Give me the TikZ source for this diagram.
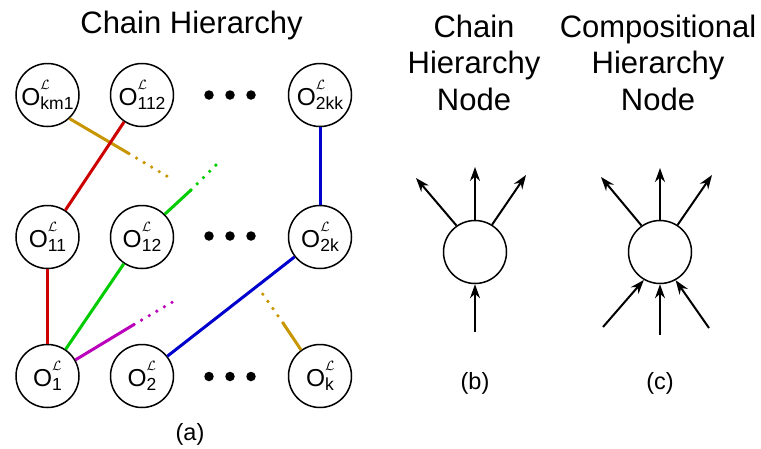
\RequirePackage{fix-cm}
\documentclass[tikz,border=0pt]{standalone}
\usepackage{fontspec}
\setmainfont{Liberation Sans}
\usetikzlibrary{arrows.meta}
\definecolor{cgold}{RGB}{200,150,0}
\definecolor{cred}{RGB}{204,0,0}
\definecolor{cgreen}{RGB}{0,204,0}
\definecolor{cblue}{RGB}{0,0,204}
\definecolor{cmag}{RGB}{187,0,187}
\newcommand\olab[1]{\fontsize{24.5}{24.5}\selectfont O\rlap{\raisebox{16pt}{\fontsize{13.5}{13.5}\selectfont$\mathcal{L}$}}\raisebox{-4pt}{\fontsize{17.5}{17.5}\selectfont #1}}
\begin{document}
\begin{tikzpicture}[x=1pt,y=-1pt,
  onode/.style={circle,draw,line width=1.5pt,minimum size=63pt,inner sep=0pt},
  conn/.style={line width=3pt},
  dotline/.style={line width=3.6pt,line cap=round,dash pattern=on 0pt off 8.8pt},
  arr/.style={line width=2pt,-{Stealth[length=14pt,width=10pt]}},
  dotc/.style={circle,fill,inner sep=0pt,minimum size=9.5pt},
  ttl/.style={anchor=base,font=\fontsize{31}{31}\selectfont},
  capt/.style={font=\fontsize{23.5}{23.5}\selectfont}]
\useasboundingbox (0,0) rectangle (761,448);
% titles
\node[ttl] (tA) at (191.5,33) {Chain Hierarchy};
\node[ttl] (tB1) at (474,37) {Chain};
\node[ttl] (tB2) at (474,73.5) {Hierarchy};
\node[ttl] (tB3) at (474,110) {Node};
\node[ttl] (tC1) at (658,37) {Compositional};
\node[ttl] (tC2) at (658,73.5) {Hierarchy};
\node[ttl] (tC3) at (658,110) {Node};
% chain nodes
\node[onode] (km1) at (47.5,95) {\olab{km1}};
\node[onode] (n112) at (142,95) {\olab{112}};
\node[onode] (n2kk) at (320,95) {\olab{2kk}};
\node[onode] (n11) at (47.5,237) {\olab{11}};
\node[onode] (n12) at (142,237) {\olab{12}};
\node[onode] (n2k) at (320,237) {\olab{2k}};
\node[onode] (n1) at (47.5,376) {\olab{1}};
\node[onode] (n2) at (142,376) {\olab{2}};
\node[onode] (nk) at (320,376) {\olab{k}};
% ellipsis dots
\foreach \yy/\r in {95/a,236/b,376.5/c}{
  \node[dotc] (d1\r) at (209,\yy) {};
  \node[dotc] (d2\r) at (230,\yy) {};
  \node[dotc] (d3\r) at (251,\yy) {};
}
% free ends
\coordinate (g1e) at (129,153.6);
\coordinate (g1f) at (170,178);
\coordinate (gr1e) at (191,190);
\coordinate (gr1f) at (218,163);
\coordinate (m1e) at (134,324.5);
\coordinate (m1f) at (176,300);
\coordinate (g2e) at (283,323);
\coordinate (g2f) at (262,293);
% connectors
\draw[conn,cgold] (km1.-47) -- (g1e);
\draw[dotline,cgold] (g1e) -- (g1f);
\draw[conn,cred] (n112) -- (n11);
\draw[conn,cred] (n11) -- (n1);
\draw[conn,cgreen] (n12.45) -- (gr1e);
\draw[dotline,cgreen] (gr1e) -- (gr1f);
\draw[conn,cgreen] (n1) -- (n12);
\draw[conn,cblue] (n2kk) -- (n2k);
\draw[conn,cblue] (n2) -- (n2k);
\draw[conn,cmag] (n1.30) -- (m1e);
\draw[dotline,cmag] (m1e) -- (m1f);
\draw[conn,cgold] (nk.126) -- (g2e);
\draw[dotline,cgold] (g2e) -- (g2f);
% right panel
\node[onode] (cb) at (475,252) {};
\node[onode] (cc) at (660,252) {};
\coordinate (b1) at (416,178);
\coordinate (b2) at (475,167);
\coordinate (b3) at (526,175);
\coordinate (b4) at (475,332);
\draw[arr] (cb.125) -- (b1);
\draw[arr] (cb.90) -- (b2);
\draw[arr] (cb.58) -- (b3);
\draw[arr] (b4) -- (cb.-90);
\coordinate (c1) at (601,177);
\coordinate (c2) at (660,168);
\coordinate (c3) at (712,175);
\coordinate (c4) at (603,327);
\coordinate (c5) at (660,335);
\coordinate (c6) at (709,328);
\draw[arr] (cc.125) -- (c1);
\draw[arr] (cc.90) -- (c2);
\draw[arr] (cc.57) -- (c3);
\draw[arr] (c4) -- (cc.-120);
\draw[arr] (c5) -- (cc.-90);
\draw[arr] (c6) -- (cc.-61);
% captions
\node[capt] (la) at (190,434) {(a)};
\node[capt] (lb) at (475,383) {(b)};
\node[capt] (lc) at (660,383) {(c)};
\end{tikzpicture}
\end{document}
